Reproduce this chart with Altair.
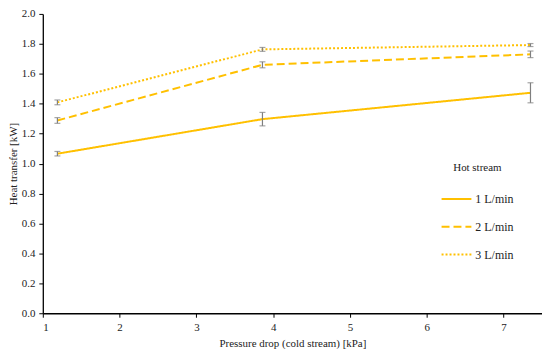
import altair as alt
import pandas as pd

series = ["1 L/min", "2 L/min", "3 L/min"]
pressure = [1.19, 3.86, 7.35]
heat_1 = [1.066, 1.297, 1.473]
heat_2 = [1.288, 1.660, 1.730]
heat_3 = [1.409, 1.763, 1.792]
err_1 = [0.015, 0.045, 0.067]
err_2 = [0.019, 0.020, 0.022]
err_3 = [0.016, 0.013, 0.010]
x_ticks = [1, 2, 3, 4, 5, 6, 7]
y_ticks = [0, 0.2, 0.4, 0.6, 0.8, 1.0, 1.2, 1.4, 1.6, 1.8, 2.0]

rows = []
for name, vals, errs in zip(series, [heat_1, heat_2, heat_3], [err_1, err_2, err_3]):
    for p, v, e in zip(pressure, vals, errs):
        rows.append({"series": name, "p": p, "q": v, "lo": v - e, "hi": v + e})
df = pd.DataFrame(rows)

FONT = "Liberation Serif, Times New Roman, serif"
GOLD = "#FFC000"
GRAY = "#7F7F7F"

xs = alt.Scale(domain=[1, 7.5], nice=False, zero=False)
ys = alt.Scale(domain=[0, 2.0], nice=False)

base = alt.Chart(df)

lines = base.mark_line(color=GOLD, strokeWidth=2).encode(
    x=alt.X("p:Q", scale=xs, title="Pressure drop (cold stream) [kPa]",
            axis=alt.Axis(values=x_ticks, tickCount=len(x_ticks), format="d", labelOverlap=False)),
    y=alt.Y("q:Q", scale=ys, title="Heat transfer [kW]",
            axis=alt.Axis(values=y_ticks, tickCount=len(y_ticks),
                          format=".1f", labelOverlap=False)),
    strokeDash=alt.StrokeDash(
        "series:N",
        scale=alt.Scale(domain=series, range=[[1, 0], [8, 4], [2, 2]]),
        legend=alt.Legend(
            title="Hot stream", orient="none", legendX=400, legendY=149,
            symbolType="stroke", symbolSize=900, symbolStrokeColor=GOLD,
            symbolStrokeWidth=2, clipHeight=16, rowPadding=12,
            titleAnchor="middle", titlePadding=18, labelOffset=3,
            titleFont=FONT, titleFontSize=11, titleFontWeight="normal",
            titleColor="#222", labelFont=FONT, labelFontSize=12, labelColor="#222",
        ),
    ),
)

bars = base.mark_rule(color=GRAY, strokeWidth=1.2).encode(
    x="p:Q", y="lo:Q", y2="hi:Q"
)
cap_lo = base.mark_tick(color=GRAY, orient="horizontal", size=6, thickness=1.2).encode(
    x="p:Q", y="lo:Q"
)
cap_hi = base.mark_tick(color=GRAY, orient="horizontal", size=6, thickness=1.2).encode(
    x="p:Q", y="hi:Q"
)

chart = alt.layer(lines, bars, cap_lo, cap_hi).properties(
    width=502, height=301,
    autosize=alt.AutoSizeParams(type="none"),
    padding={"left": 35, "top": 5, "right": 0, "bottom": 35},
).configure_view(stroke=None).configure_axis(
    grid=False, domainColor="#000", domainWidth=1.3, tickColor="#000",
    tickSize=4, labelFont=FONT, labelFontSize=11, labelColor="#222",
    titleFont=FONT, titleFontSize=11, titleFontWeight="normal", titleColor="#222",
    labelPadding=4, labelOverlap=False,
).configure_axisX(titlePadding=5).configure_axisY(titlePadding=3)

chart.save("out.html", embed_options={"renderer": "svg", "actions": False})
